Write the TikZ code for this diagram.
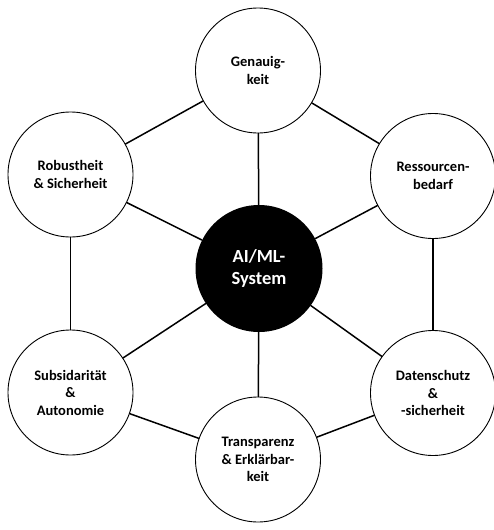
\documentclass[tikz,border=0pt]{standalone}
\usepackage{fontspec}
\setmainfont{Carlito}
\begin{document}
\begin{tikzpicture}[x=1pt,y=-1pt,line join=round,line cap=round,
	ring/.style={circle,draw,line width=0.9pt,fill=white,minimum size=125pt,inner sep=0pt,align=center,font=\fontsize{14.5}{17.5}\selectfont\bfseries},
	core/.style={circle,fill=black,minimum size=127pt,inner sep=0pt,align=center,text=white,font=\fontsize{18.5}{22}\selectfont\bfseries},
	link/.style={line width=1.5pt}]
				\useasboundingbox (0,0) rectangle (494,530);
				\node[core] (sys) at (259,268.5) {AI/ML-\\System};
				\node[ring] (gen) at (258,70.5) {Genauig-\\keit};
				\node[ring] (res) at (433,176) {Ressourcen-\\bedarf};
				\node[ring] (dat) at (433,393) {Datenschutz\\\&\\-sicherheit};
				\node[ring] (tra) at (258,459.5) {Transparenz\\\& Erklärbar-\\keit};
				\node[ring] (sub) at (70.5,392.5) {Subsidarität\\\&\\Autonomie};
				\node[ring] (rob) at (70.5,174.5) {Robustheit\\\& Sicherheit};
				\foreach \x in {gen,res,dat,tra,sub,rob}\draw[link] (sys)--(\x);
				\foreach \x/\y in {gen/res,res/dat,dat/tra,tra/sub,sub/rob,rob/gen}\draw[link] (\x)--(\y);
			\end{tikzpicture}
\end{document}
